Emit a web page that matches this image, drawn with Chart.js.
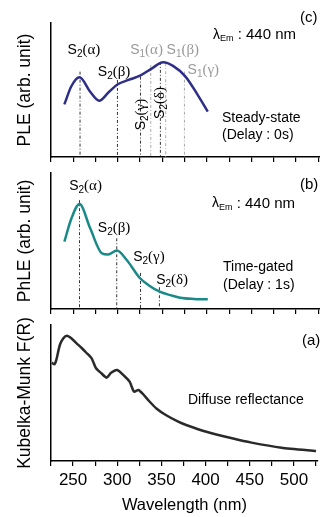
<!DOCTYPE html>
<html>
<head>
<meta charset="utf-8">
<script src="https://cdn.jsdelivr.net/npm/chart.js@4.4.0/dist/chart.umd.min.js"></script>
<style>
  body { margin: 0; background: #fff; }
  #wrap { position: relative; width: 320px; height: 517px; overflow: hidden; }
  canvas { position: absolute; left: 0; }
</style>
</head>
<body>
<div id="wrap">
  <canvas id="ple" width="320" height="165" style="top:0"></canvas>
  <canvas id="phle" width="320" height="151" style="top:165px"></canvas>
  <canvas id="km" width="320" height="201" style="top:316px"></canvas>
</div>
<script>
// (c) steady-state PLE
const pleWl = [240, 248, 257, 269, 279, 290, 300, 312, 325, 338, 351, 362, 376, 390, 401];
const pleVal = [0.393, 0.53, 0.595, 0.487, 0.42, 0.485, 0.543, 0.575, 0.607, 0.66, 0.707, 0.68, 0.60, 0.46, 0.338];
const pleS2Wl = [257.6, 299.6, 325.5, 347.8];
const pleS2Top = [0.637, 0.575, 0.60, 0.71];
const pleS1Wl = [337, 353.8, 374.8];
const pleS1Top = [0.687, 0.70, 0.637];

// (b) time-gated PhLE
const phleWl = [240, 248, 257, 269, 282, 289, 299, 310, 325, 335, 347, 360, 370, 385, 401];
const phleVal = [0.495, 0.667, 0.772, 0.593, 0.41, 0.40, 0.43, 0.36, 0.226, 0.173, 0.127, 0.10, 0.083, 0.074, 0.071];
const phleS2Wl = [257, 298.8, 325.5, 346.7];
const phleS2Top = [0.80, 0.52, 0.265, 0.16];

// (a) diffuse reflectance
const kmWl = [226, 229, 231, 235, 239, 243, 248, 254, 260, 265, 271, 276, 282, 288, 293, 300, 308, 314, 319, 324, 329, 336, 344, 355, 369, 378, 401, 430, 452, 486, 525];
const kmVal = [0.723, 0.711, 0.743, 0.853, 0.902, 0.921, 0.902, 0.865, 0.829, 0.796, 0.755, 0.682, 0.645, 0.613, 0.649, 0.669, 0.625, 0.583, 0.51, 0.522, 0.493, 0.441, 0.388, 0.338, 0.289, 0.265, 0.215, 0.167, 0.135, 0.098, 0.074];

const greekS2 = ["α", "β", "γ", "δ"];
const greekS1 = ["α", "β", "γ"];

const FONT = "Liberation Sans";

function pts(xs, ys) {
  return xs.map((x, i) => ({ x: x, y: ys[i] }));
}

function curve(xs, ys, color, width) {
  return {
    data: pts(xs, ys),
    borderColor: color,
    borderWidth: width,
    pointRadius: 0,
    cubicInterpolationMode: "monotone",
  };
}

function markers(xs, tops, color) {
  return xs.map((x, i) => ({
    data: [{ x: x, y: tops[i] }, { x: x, y: 0 }],
    borderColor: color,
    borderWidth: 1,
    borderDash: [3, 2, 1, 2],
    pointRadius: 0,
  }));
}

function xAxis(labels, h) {
  return {
    type: "linear",
    min: 225,
    max: 527,
    border: { color: "#000", width: 1.5 },
    grid: { drawOnChartArea: false, color: "#000", tickLength: 5, lineWidth: 1.2 },
    ticks: {
      display: labels,
      stepSize: 25,
      includeBounds: false,
      autoSkip: false,
      maxRotation: 0,
      padding: 4,
      color: "#000",
      font: { family: FONT, size: 17 },
      callback: (v) => (v % 50 === 0 ? v : ""),
    },
    title: {
      display: labels,
      text: "Wavelength (nm)",
      color: "#000",
      font: { family: FONT, size: 16.5 },
      padding: { top: 0, bottom: 2 },
    },
    afterFit: (s) => { s.height = h; },
  };
}

function yAxis(title) {
  return {
    min: 0,
    max: 1,
    border: { color: "#000", width: 1.5 },
    grid: { display: false },
    ticks: { display: false },
    title: {
      display: true,
      text: title,
      color: "#000",
      font: { family: FONT, size: 17.5 },
      padding: { top: 15, bottom: 0 },
    },
    afterFit: (s) => { s.width = 51; },
  };
}

// S with subscript and a greek letter in brackets, centred on (cx, cy)
function drawS(ctx, sub, greek, cx, cy, color, rot) {
  ctx.save();
  ctx.translate(cx, cy);
  if (rot) ctx.rotate(-Math.PI / 2);
  ctx.fillStyle = color;
  ctx.textBaseline = "alphabetic";
  const main = "14px '" + FONT + "'";
  const small = "10px '" + FONT + "'";
  const serif = "15px 'Liberation Serif'";
  ctx.font = main;
  const w1 = ctx.measureText("S").width;
  ctx.font = small;
  const w2 = ctx.measureText(sub).width;
  ctx.font = serif;
  const w3 = ctx.measureText("(" + greek + ")").width;
  let x = -(w1 + w2 + w3) / 2;
  ctx.font = main;
  ctx.fillText("S", x, 5);
  x += w1;
  ctx.font = small;
  ctx.fillText(sub, x, 8);
  x += w2;
  ctx.font = serif;
  ctx.fillText("(" + greek + ")", x, 5);
  ctx.restore();
}

function drawLambda(ctx, x, y) {
  ctx.save();
  ctx.fillStyle = "#000";
  ctx.textBaseline = "middle";
  ctx.font = "14px '" + FONT + "'";
  ctx.fillText("λ", x, y);
  x += ctx.measureText("λ").width;
  ctx.font = "9px '" + FONT + "'";
  ctx.fillText("Em", x, y + 4);
  x += ctx.measureText("Em").width;
  ctx.font = "15px '" + FONT + "'";
  ctx.fillText(" : 440 nm", x, y);
  ctx.restore();
}

function textPlugin(items) {
  return {
    id: "panelText",
    afterDraw(chart) {
      const ctx = chart.ctx;
      const xs = chart.scales.x;
      const ys = chart.scales.y;
      for (const it of items) {
        if (it.kind === "s") {
          drawS(ctx, it.sub, it.greek, xs.getPixelForValue(it.x), ys.getPixelForValue(it.y), it.color || "#000", it.rot);
        } else if (it.kind === "lambda") {
          drawLambda(ctx, it.px, it.py);
        } else {
          ctx.save();
          ctx.fillStyle = "#000";
          ctx.textBaseline = "middle";
          ctx.font = (it.size || 14) + "px '" + FONT + "'";
          ctx.fillText(it.text, it.px, it.py);
          ctx.restore();
        }
      }
    },
  };
}

function makeChart(id, datasets, pad, xOpts, yTitle, items) {
  return new Chart(document.getElementById(id), {
    type: "line",
    data: { datasets: datasets },
    options: {
      responsive: false,
      animation: false,
      layout: { padding: pad },
      plugins: { legend: { display: false }, tooltip: { enabled: false } },
      scales: { x: xOpts, y: yAxis(yTitle) },
    },
    plugins: [textPlugin(items)],
  });
}

const GRAY = "#9a9a9a";

makeChart(
  "ple",
  [curve(pleWl, pleVal, "#2e2e88", 2.5)]
    .concat(markers(pleS2Wl, pleS2Top, "#333"))
    .concat(markers(pleS1Wl, pleS1Top, "#aaa")),
  { top: 23, right: 0, left: 0, bottom: 0 },
  xAxis(false, 8),
  "PLE (arb. unit)",
  [
    { kind: "s", sub: "2", greek: greekS2[0], x: 262, y: 0.806 },
    { kind: "s", sub: "2", greek: greekS2[1], x: 295.8, y: 0.642 },
    { kind: "s", sub: "2", greek: greekS2[2], x: 325, y: 0.317, rot: true },
    { kind: "s", sub: "2", greek: greekS2[3], x: 345.8, y: 0.403, rot: true },
    { kind: "s", sub: "1", greek: greekS1[0], x: 332.3, y: 0.806, color: GRAY },
    { kind: "s", sub: "1", greek: greekS1[1], x: 373, y: 0.806, color: GRAY },
    { kind: "s", sub: "1", greek: greekS1[2], x: 396, y: 0.66, color: GRAY },
    { kind: "lambda", px: 213, py: 35 },
    { kind: "t", text: "(c)", px: 300, py: 17.5, size: 15 },
    { kind: "t", text: "Steady-state", px: 222, py: 118.5 },
    { kind: "t", text: "(Delay : 0s)", px: 222, py: 135.5 },
  ]
);

makeChart(
  "phle",
  [curve(phleWl, phleVal, "#1a8a88", 2.5)].concat(markers(phleS2Wl, phleS2Top, "#333")),
  { top: 8, right: 0, left: 0, bottom: 0 },
  xAxis(false, 7),
  "PhLE (arb. unit)",
  [
    { kind: "s", sub: "2", greek: greekS2[0], x: 263.8, y: 0.912 },
    { kind: "s", sub: "2", greek: greekS2[1], x: 295.8, y: 0.60 },
    { kind: "s", sub: "2", greek: greekS2[2], x: 335, y: 0.393 },
    { kind: "s", sub: "2", greek: greekS2[3], x: 361, y: 0.217 },
    { kind: "lambda", px: 212, py: 203.5 - 165 },
    { kind: "t", text: "(b)", px: 300, py: 185 - 165, size: 15 },
    { kind: "t", text: "Time-gated", px: 223, py: 267.5 - 165 },
    { kind: "t", text: "(Delay : 1s)", px: 223, py: 285.5 - 165 },
  ]
);

makeChart(
  "km",
  [{ data: pts(kmWl, kmVal), borderColor: "#2a2a2a", borderWidth: 2.5, pointRadius: 0, tension: 0.2 }],
  { top: 9, right: 0, left: 0, bottom: 0 },
  xAxis(true, 56),
  "Kubelka-Munk F(R)",
  [
    { kind: "t", text: "(a)", px: 302, py: 341 - 316, size: 15 },
    { kind: "t", text: "Diffuse reflectance", px: 188, py: 400 - 316 },
  ]
);
</script>
</body>
</html>
